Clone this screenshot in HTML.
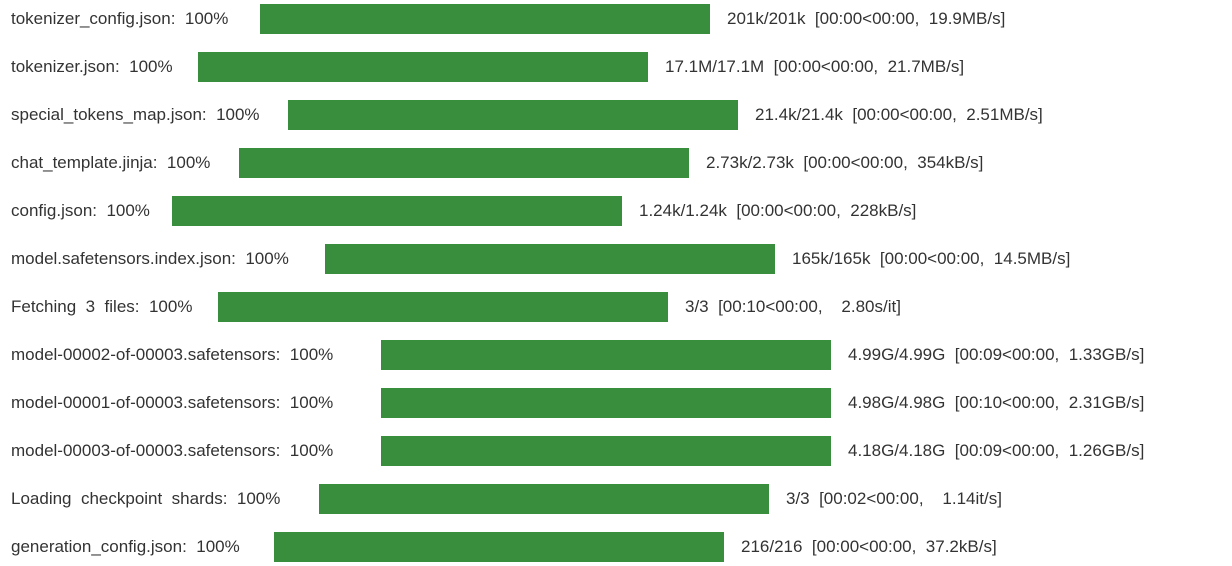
<!DOCTYPE html>
<html><head><meta charset="utf-8"><style>
body{margin:0;width:1232px;height:566px;background:#fff;overflow:hidden;font-family:"Segoe UI","Liberation Sans",sans-serif;font-size:17px;color:#333;}
.row{position:absolute;left:0;height:30px;}
.lbl,.st{position:absolute;top:0;line-height:30px;white-space:pre;}
.lbl{left:11px;}
.bar{position:absolute;top:0;height:30px;background:#388e3c;}
</style></head><body>
<div id="c"></div>
<script>
const labels=["tokenizer_config.json:  100%","tokenizer.json:  100%","special_tokens_map.json:  100%","chat_template.jinja:  100%","config.json:  100%","model.safetensors.index.json:  100%","Fetching  3  files:  100%","model-00002-of-00003.safetensors:  100%","model-00001-of-00003.safetensors:  100%","model-00003-of-00003.safetensors:  100%","Loading  checkpoint  shards:  100%","generation_config.json:  100%"];
const progress=[1,1,1,1,1,1,1,1,1,1,1,1];
const stats=["201k/201k  [00:00<00:00,  19.9MB/s]","17.1M/17.1M  [00:00<00:00,  21.7MB/s]","21.4k/21.4k  [00:00<00:00,  2.51MB/s]","2.73k/2.73k  [00:00<00:00,  354kB/s]","1.24k/1.24k  [00:00<00:00,  228kB/s]","165k/165k  [00:00<00:00,  14.5MB/s]","3/3  [00:10<00:00,    2.80s/it]","4.99G/4.99G  [00:09<00:00,  1.33GB/s]","4.98G/4.98G  [00:10<00:00,  2.31GB/s]","4.18G/4.18G  [00:09<00:00,  1.26GB/s]","3/3  [00:02<00:00,    1.14it/s]","216/216  [00:00<00:00,  37.2kB/s]"];
const barStarts=[260,198,288,239,172,325,218,381,381,381,319,274];
const c=document.getElementById('c');
const W=450;
labels.forEach((l,i)=>{
  const r=document.createElement('div');r.className='row';r.style.top=(4+i*48)+'px';
  
  
  const a=document.createElement('span');a.className='lbl';a.textContent=l;
  
  
  const b=document.createElement('div');b.className='bar';
  b.style.left=barStarts[i]+'px';b.style.width=(W*progress[i])+'px';
  
  
  const s=document.createElement('span');s.className='st';s.textContent=stats[i];
  s.style.left=(barStarts[i]+W+17)+'px';
  
  
  r.append(a,b,s);c.appendChild(r);
});
</script>
</body></html>
